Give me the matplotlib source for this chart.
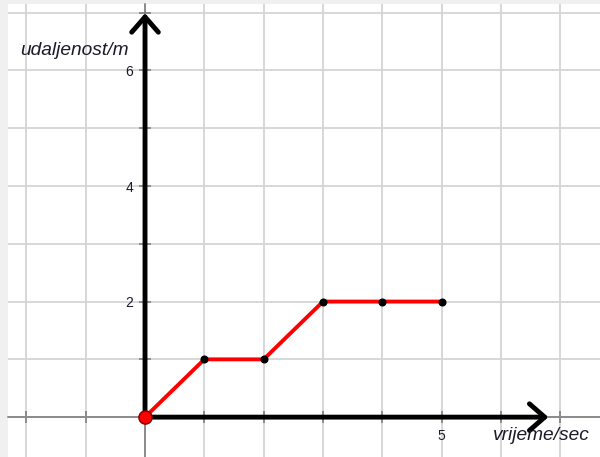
import numpy as np
import matplotlib.pyplot as plt
from matplotlib.ticker import FuncFormatter

# distance-time data
vrijeme = [0, 1, 2, 3, 4, 5]
udaljenost = [0, 1, 1, 2, 2, 2]

x_grid = list(range(-2, 8))
y_grid = list(range(0, 8))
x_labels = [5]
y_labels = [2, 4, 6]

plt.rcParams['font.family'] = ['Liberation Sans', 'DejaVu Sans']

fig = plt.figure(figsize=(6, 4.57), dpi=100, facecolor='#f0f0f0')
ax = fig.add_axes([8 / 600, 0, 592 / 600, 453 / 457])
ax.set_facecolor('white')

ax.set_xlim(-2.31, 7.67)
ax.set_ylim(-0.69, 7.15)

# axes through the origin, thin grey like GeoGebra
for side in ['top', 'right']:
    ax.spines[side].set_visible(False)
ax.spines['left'].set_position(('data', 0))
ax.spines['bottom'].set_position(('data', 0))
for side in ['left', 'bottom']:
    ax.spines[side].set_color('#777777')
    ax.spines[side].set_linewidth(1.1)
    ax.spines[side].set_zorder(1.5)

ax.set_xticks(x_grid)
ax.set_yticks(y_grid)
ax.xaxis.set_major_formatter(FuncFormatter(lambda v, p: f'{int(v)}' if int(round(v)) in x_labels else ''))
ax.yaxis.set_major_formatter(FuncFormatter(lambda v, p: f'{int(v)}' if int(round(v)) in y_labels else ''))
ax.tick_params(direction='inout', length=9, width=1.1, color='#777777',
               labelsize=10, labelcolor='#1a1a2a', pad=4)
ax.grid(True, color='#d4d4d4', linewidth=1.3, zorder=0)
ax.set_axisbelow(True)

# thick black arrows for the positive axes
arrow = dict(arrowstyle='->,head_length=0.55,head_width=0.48', lw=3.5, color='black',
             mutation_scale=20, shrinkA=0, shrinkB=0)
ax.annotate('', xy=(6.8, 0), xytext=(-0.02, 0), arrowprops=arrow, zorder=3)
ax.annotate('', xy=(0, 6.99), xytext=(0, -0.02), arrowprops=arrow, zorder=3)

# graph
ax.plot(vrijeme, udaljenost, color='#ff0000', lw=2.8, zorder=4, solid_capstyle='round')
ax.plot(vrijeme[1:], udaljenost[1:], 'o', color='black', markersize=4.8, zorder=5)
ax.plot(vrijeme[0], udaljenost[0], 'o', color='#ff0000', markeredgecolor='#7a0000',
        markeredgewidth=1, markersize=9.5, zorder=6, clip_on=False)

ax.text(-2.11, 6.35, 'udaljenost/m', fontsize=13.8, style='italic', color='#1a1a2a',
        ha='left', va='center')
ax.text(5.87, -0.31, 'vrijeme/sec', fontsize=13.8, style='italic', color='#1a1a2a',
        ha='left', va='center')

fig.savefig('out.png', dpi=100, facecolor=fig.get_facecolor())
